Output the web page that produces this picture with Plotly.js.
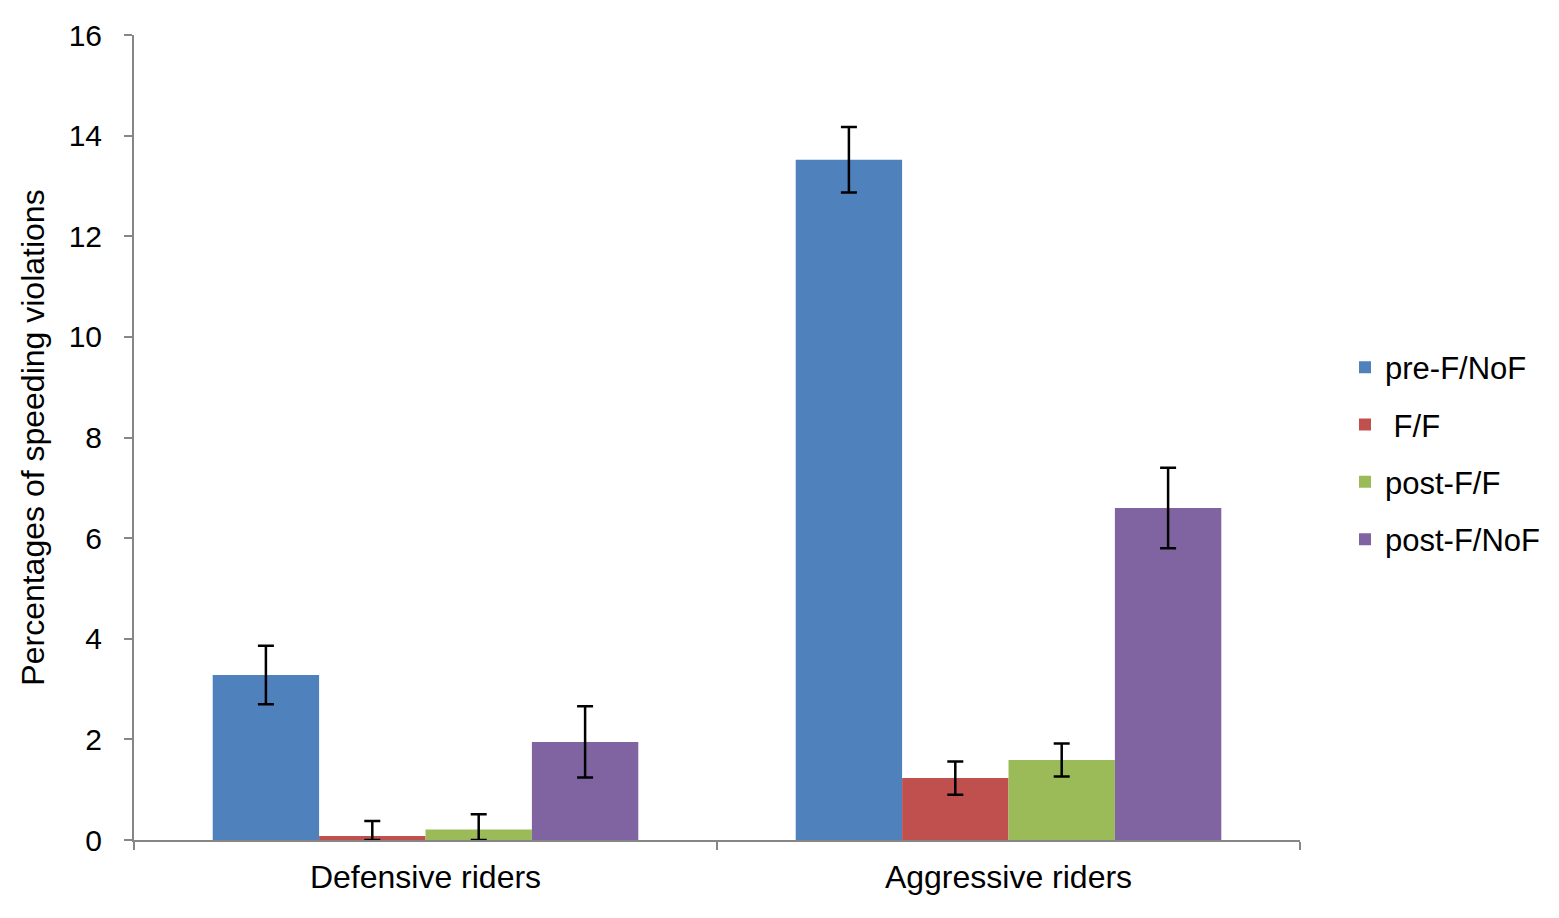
<!DOCTYPE html>
<html>
<head>
<meta charset="utf-8">
<script src="https://cdn.plot.ly/plotly-3.0.1.min.js"></script>
<style>html,body{margin:0;padding:0;background:#fff;}#chart{width:1559px;height:918px;}</style>
</head>
<body>
<div id="chart"></div>
<script>
const categories = ["Defensive riders", "Aggressive riders"];
const seriesNames = ["pre-F/NoF", "\u00a0F/F", "post-F/F", "post-F/NoF"];
const preFNoF = [3.28, 13.52];
const fF = [0.08, 1.23];
const postFF = [0.21, 1.59];
const postFNoF = [1.95, 6.60];
const errPreFNoF = [0.58, 0.65];
const errFF = [0.30, 0.33];
const errPostFF = [0.30, 0.33];
const errPostFNoF = [0.71, 0.80];
const yTicks = [0, 2, 4, 6, 8, 10, 12, 14, 16];

const values = [preFNoF, fF, postFF, postFNoF];
const errs = [errPreFNoF, errFF, errPostFF, errPostFNoF];
const colors = ["#4F81BD", "#C0504D", "#9BBB59", "#8064A2"];

const traces = values.map((v, i) => ({
  type: "bar",
  name: seriesNames[i],
  x: categories,
  y: v,
  legendgroup: "g" + i,
  marker: {color: colors[i], line: {width: 0}},
  error_y: {
    type: "data",
    symmetric: false,
    array: errs[i],
    arrayminus: errs[i].map((e, k) => Math.min(e, v[k])),
    color: "#000",
    thickness: 2.5,
    width: 8
  }
}));

const layout = {
  width: 1559,
  height: 918,
  paper_bgcolor: "#fff",
  plot_bgcolor: "#fff",
  margin: {l: 134, r: 259, t: 35, b: 78},
  barmode: "group",
  bargap: 0.27,
  bargroupgap: 0,
  font: {family: "Liberation Sans, Arial, sans-serif", size: 30, color: "#000"},
  showlegend: true,
  legend: {
    x: 1.0386, xanchor: "left",
    y: 0.48, yanchor: "middle",
    traceorder: "grouped",
    tracegroupgap: 14,
    font: {size: 31, color: "#000"},
    itemwidth: 30
  },
  xaxis: {
    type: "category",
    showline: true,
    linecolor: "#868686",
    linewidth: 2,
    ticks: "outside",
    tickson: "boundaries",
    ticklen: 8,
    tickcolor: "#868686",
    tickwidth: 2,
    showgrid: false,
    tickfont: {size: 32, color: "#000"},
    ticklabelstandoff: 8,
    zeroline: false
  },
  yaxis: {
    range: [0, 16],
    tickvals: yTicks,
    ticktext: yTicks.map(String),
    showline: true,
    linecolor: "#868686",
    linewidth: 2,
    ticks: "outside",
    ticklen: 8,
    tickcolor: "#868686",
    tickwidth: 2,
    showgrid: false,
    zeroline: false,
    tickfont: {size: 30, color: "#000"},
    ticklabelstandoff: 16,
    title: {text: "Percentages of speeding violations", font: {size: 32, color: "#000"}, standoff: 14}
  }
};

Plotly.newPlot("chart", traces, layout, {displayModeBar: false, staticPlot: true});
</script>
</body>
</html>
